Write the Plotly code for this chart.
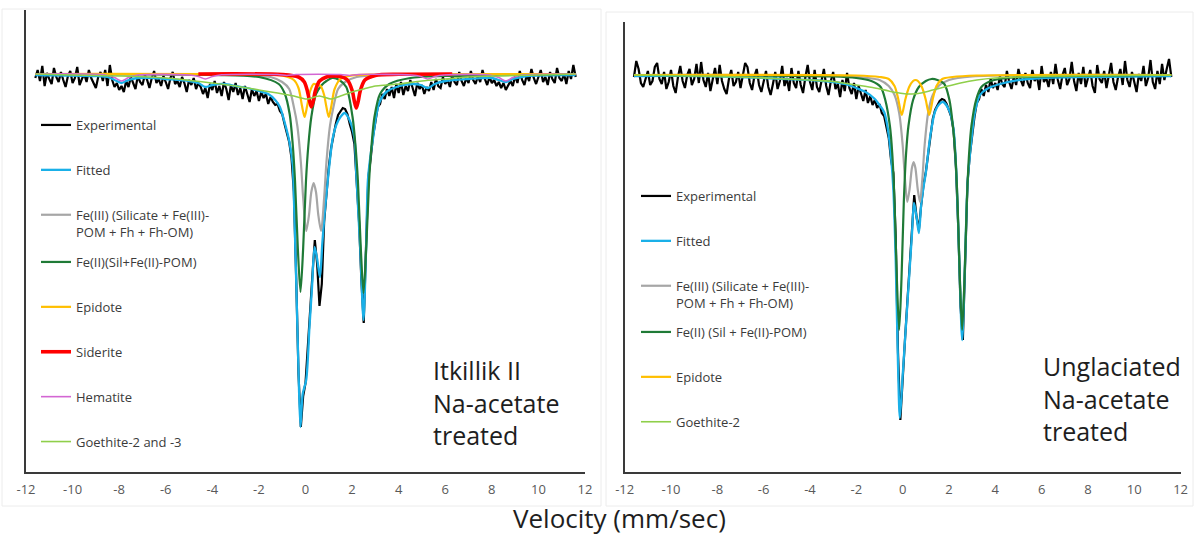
import plotly.graph_objects as go

W, H = 1195, 537

# ---------------- data (absorption, arbitrary units; baseline = 0) ----------------
V_START, V_STEP = -11.6, 0.1

# Left panel: Itkillik II, Na-acetate treated
L_EXP = [
    4, -4, 7, -8, 12, -1, 5, 10, -6, 3,
    8, -2, 6, 13, 2, -3, 9, 4, -7, 11,
    5, 0, 8, -4, 4, 10, 14, 3, -2, 7,
    -4, 12, -9, 6, 13, 9, 16, 12, 18, 7,
    13, 3, 10, 15, 2, 8, 11, 1, 6, 14,
    4, -3, 9, 5, 12, 2, 8, 15, 4, -2,
    10, 7, 13, 3, 9, 18, 6, 11, 4, 15,
    9, 13, 20, 14, 24, 10, 16, 7, 19, 12,
    22, 8, 15, 26, 11, 18, 9, 21, 14, 25,
    12, 19, 28, 15, 22, 17, 27, 18, 24, 20,
    30, 23, 28, 31, 30, 37, 40, 50, 59, 68,
    84, 118, 204, 300, 353, 322, 309, 276, 238, 200,
    166, 190, 232, 210, 148, 119, 93, 74, 60, 50,
    41, 38, 34, 35, 40, 50, 58, 70, 108, 148,
    207, 249, 172, 103, 84, 62, 48, 33, 30, 20,
    25, 15, 22, 13, 24, 10, 19, 8, 21, 12,
    17, 6, 14, 22, 9, 15, 11, 20, 13, 17,
    8, 16, 5, 12, 14, 3, 10, 6, 13, 1,
    8, 11, -2, 7, 12, 4, 9, -3, 6, 10,
    2, 8, -4, 5, 11, 3, 9, 6, 12, 8,
    14, 9, 16, 11, 7, 12, 2, 9, -3, 6,
    11, 1, 7, -5, 4, 10, 2, -4, 8, 3,
    11, -2, 5, 9, -6, 4, 7, 0, 10, -3,
    5, -9, 3,
]

L_FIT_V = [-11.6, -9, -8.5, -8.2, -7.9, -7.6, -7.2, -6.5, -6, -5, -4.6, -4.3, -4.0, -3.5, -3,
           -2.5, -2, -1.6, -1.3, -1.1, -0.9, -0.69, -0.55, -0.52, -0.4, -0.29, -0.215, -0.12,
           0.03, 0.17, 0.28, 0.39, 0.5, 0.62, 0.72, 0.82, 0.92, 1.03, 1.17, 1.32, 1.5, 1.68,
           1.89, 2.1, 2.18, 2.35, 2.49, 2.6, 2.68, 2.8, 2.9, 3.04, 3.18, 3.47, 4.04, 4.6, 4.95,
           5.25, 5.55, 6, 7, 8, 8.3, 8.6, 8.9, 9.5, 11.6]
L_FIT = [1, 2, 3, 6, 9, 6, 4, 4, 5, 7, 9, 13, 11, 10, 12, 14, 17, 20, 26, 33, 48, 68, 91, 106,
         206, 306, 353, 320, 306, 253, 213, 173, 185, 203, 170, 140, 115, 90, 64, 51, 43, 39,
         46, 64, 100, 175, 246, 175, 106, 80, 64, 41, 28, 18, 12, 10, 11, 14, 10, 7, 5, 4, 6,
         8, 5, 2, 1]

L_FE3_V = [-11.6, -3, -1.5, -1.0, -0.7, -0.5, -0.35, -0.2, -0.1, 0.03, 0.15, 0.25, 0.35, 0.45,
           0.55, 0.67, 0.8, 0.9, 1.05, 1.2, 1.4, 1.7, 2.2, 3.5, 11.6]
L_FE3 = [0, 1, 3, 8, 15, 33, 52, 88, 124, 157, 141, 118, 109, 118, 141, 157, 124, 88, 52, 33,
         15, 8, 3, 1, 0]

L_FE2_V = [-11.6, -4, -2, -1.15, -0.9, -0.68, -0.55, -0.45, -0.33, -0.215, -0.1, 0.02, 0.12,
           0.25, 0.45, 0.7, 0.9, 1.15, 1.45, 1.75, 2.02, 2.14, 2.25, 2.375, 2.49, 2.605, 2.73,
           2.84, 2.96, 3.2, 3.6, 4.5, 6, 11.6]
L_FE2 = [0, 1, 3, 10, 19, 40, 70, 107, 174, 218, 174, 107, 72, 43, 20, 11, 7, 4, 6, 13, 43, 70,
         107, 175, 219, 175, 107, 70, 43, 20, 10, 4, 2, 0]

L_EPI_V = [-11.6, -2, -1, -0.5, -0.3, -0.15, -0.04, 0.07, 0.2, 0.35, 0.5, 0.65, 0.8, 0.89, 1.0,
           1.11, 1.25, 1.5, 2, 3, 11.6]
L_EPI = [0, 0.5, 1.5, 6, 14, 32, 43, 32, 17, 10, 11, 12, 21, 32, 43, 32, 15, 5, 1.5, 0.5, 0]

L_SID_V = [-4.6, -1, -0.3, -0.05, 0.08, 0.165, 0.25, 0.335, 0.42, 0.6, 0.9, 1.2, 1.5, 1.8,
           2.01, 2.095, 2.18, 2.265, 2.35, 2.55, 3, 4, 6.3]
L_SID = [0, 0.6, 3, 8, 17, 26, 33, 27, 17, 7, 3, 2, 2.6, 6, 17, 27, 34, 27, 17, 6, 1.4, 0.3, 0]

L_HEM_V = [-11.6, -8.6, -8.2, -7.9, -7.6, -7.2, -5.0, -4.6, -4.3, -4.0, -3.6, -1.2, -0.8, -0.4,
           1.5, 1.9, 2.3, 4.55, 4.95, 5.25, 5.55, 5.95, 7.9, 8.3, 8.6, 8.9, 9.3, 11.6]
L_HEM = [0, 1, 3.5, 7, 3.5, 1, 1, 2.5, 5, 2.5, 0.8, 0.5, 1.5, 0.5, 0.5, 1.5, 0.5, 1, 2.5, 5,
         2.5, 1, 1, 3.5, 7, 3.5, 1, 0]

L_GOE_V = [-11.6, -10, -8, -6, -4, -3, -2, -1.2, -0.5, 0.05, 0.6, 1.1, 1.5, 2, 2.5, 3, 3.5, 4,
           5, 6, 7, 8, 10, 11.6]
L_GOE = [0, 1, 2, 4, 9, 12, 16, 19, 22, 25, 22, 25, 22, 18, 15, 12, 11, 10, 7, 5, 3, 2, 1, 0]

# Right panel: Unglaciated, Na-acetate treated
R_EXP = [
    2, -14, -6, 8, 12, 3, -4, 10, 6, -8,
    -12, 4, 9, -3, 14, 7, -5, 11, 18, 2,
    -9, 6, 13, 0, -6, 10, 4, -11, 8, -13,
    5, 12, -2, 16, 3, -7, 9, -10, 6, 14,
    19, 4, -5, 11, 7, -3, 13, 2, -12, -8,
    8, 15, 1, -6, 10, 17, 5, -4, 12, 20,
    9, -3, 14, 6, -9, 11, 3, 16, -7, 8,
    13, -4, 10, 18, 2, -10, 7, 15, -5, 12,
    17, 4, -6, 11, 20, 6, -3, 14, 9, 22,
    5, 16, -2, 13, 19, 8, 24, 11, 18, 26,
    15, 28, 21, 30, 25, 33, 29, 38, 41, 52,
    63, 85, 98, 162, 278, 345, 300, 265, 228, 194,
    158, 120, 142, 155, 130, 110, 97, 78, 58, 44,
    35, 30, 26, 24, 25, 29, 36, 42, 56, 92,
    152, 232, 265, 178, 108, 80, 58, 42, 28, 24,
    14, 21, 10, 17, 4, 13, 8, 15, 1, 9,
    12, -4, 7, 14, 2, 10, -6, 5, 11, -2,
    8, 13, -5, 6, 1, 15, -9, 7, 3, 12,
    -3, 9, -11, 5, 14, 0, -7, 10, 4, -13,
    6, 16, -2, 9, -8, 12, 3, -5, 11, 18,
    -10, 4, 8, -4, 13, 1, -12, 7, 15, 2,
    -6, 10, -14, 5, 12, -3, 8, 17, -1, 6,
    -9, 11, 3, -15, 7, 14, -4, 9, -11, 5,
    -6, -16, 2,
]

R_FIT_V = [-11.6, -9, -7, -6, -5, -4, -3, -2.5, -2, -1.6, -1.2, -1.0, -0.8, -0.7, -0.6, -0.5,
           -0.4, -0.3, -0.2, -0.12, 0.0, 0.2, 0.4, 0.49, 0.6, 0.7, 0.8, 0.9, 1.0, 1.1, 1.2, 1.39,
           1.55, 1.75, 2.04, 2.2, 2.33, 2.45, 2.57, 2.69, 2.81, 2.98, 3.12, 3.34, 3.63, 4.2, 5,
           6, 8, 11.6]
R_FIT = [1, 1, 2, 3, 4, 5, 7, 9, 13, 17, 24, 30, 37, 46, 60, 82, 115, 185, 290, 343, 301, 230,
         160, 128, 142, 158, 130, 112, 98, 78, 60, 37, 30, 27, 37, 55, 105, 190, 265, 190, 105,
         63, 37, 20, 14, 9, 5, 3, 2, 1]

R_FE3_V = [-11.6, -2.5, -1.5, -1.0, -0.6, -0.35, -0.15, 0.0, 0.1, 0.2, 0.3, 0.4, 0.475, 0.55,
           0.65, 0.75, 0.85, 0.95, 1.1, 1.3, 1.55, 2.0, 3.0, 11.6]
R_FE3 = [0, 1, 3, 5, 11, 20, 38, 70, 104, 127, 114, 93, 87, 93, 114, 127, 104, 70, 38, 20, 11,
         5, 1.5, 0]

R_FE2_V = [-11.6, -3, -2, -1.35, -0.95, -0.75, -0.55, -0.45, -0.35, -0.25, -0.15, -0.05, 0.05,
           0.15, 0.25, 0.45, 0.7, 1.0, 1.25, 1.5, 1.8, 2.02, 2.17, 2.27, 2.37, 2.47, 2.57, 2.67,
           2.77, 2.87, 2.97, 3.17, 3.4, 3.8, 4.5, 6, 11.6]
R_FE2 = [0, 1.5, 3, 6, 12, 25, 51, 78, 127, 204, 255, 204, 127, 78, 51, 25, 12, 6, 4, 5, 9, 25,
         51, 78, 127, 204, 255, 204, 127, 78, 51, 25, 12, 6, 3, 1.5, 0]

R_EPI_V = [-11.6, -2, -1, -0.6, -0.35, -0.2, -0.04, 0.12, 0.28, 0.45, 0.555, 0.66, 0.83, 0.99,
           1.15, 1.31, 1.46, 1.71, 2.15, 3.2, 11.6]
R_EPI = [0, 0.5, 2, 4, 11, 23, 40, 24, 12, 6, 5, 6, 12, 24, 40, 23, 11, 4, 2, 0.5, 0]

R_GOE_V = [-11.6, -9, -7, -5, -4, -3, -2, -1.2, -0.6, 0, 0.39, 0.8, 1.3, 1.8, 2.5, 3.2, 4, 5, 7,
           11.6]
R_GOE = [0, 1, 2, 4, 5, 6.5, 10, 13, 16, 18.5, 19, 18, 15, 12, 8, 5, 3, 2, 1, 0]

TICKS = [-12, -10, -8, -6, -4, -2, 0, 2, 4, 6, 8, 10, 12]
TICK_TEXT = ["-12", "-10", "-8", "-6", "-4", "-2", "0", "2", "4", "6", "8", "10", "12"]

NAMES_L = ["Experimental", "Fitted", "Fe(III) (Silicate + Fe(III)-<br>POM + Fh + Fh-OM)",
           "Fe(II)(Sil+Fe(II)-POM)", "Epidote", "Siderite", "Hematite", "Goethite-2 and -3"]
NAMES_R = ["Experimental", "Fitted", "Fe(III) (Silicate + Fe(III)-<br>POM + Fh + Fh-OM)",
           "Fe(II) (Sil + Fe(II)-POM)", "Epidote", "Goethite-2"]

C_EXP, C_FIT, C_FE3, C_FE2 = "#000000", "#1ab0e8", "#a6a6a6", "#1f7a36"
C_EPI, C_SID, C_HEM, C_GOE = "#ffbf00", "#ff0000", "#d366d3", "#8fcf4a"

# ---------------- figure ----------------
vel_l = [round(V_START + V_STEP * i, 2) for i in range(len(L_EXP))]
vel_r = [round(V_START + V_STEP * i, 2) for i in range(len(R_EXP))]

fig = go.Figure()


def add(x, y, name, color, width, xa, ya, leg, shape="spline"):
    fig.add_trace(go.Scatter(
        x=x, y=y, name=name, mode="lines",
        line=dict(color=color, width=width, shape=shape, smoothing=0.8 if shape == "spline" else None),
        xaxis=xa, yaxis=ya, legend=leg, legendgroup=leg + name, showlegend=True,
        hoverinfo="skip"))


# left panel (top legend block: legend, bottom block: legend3)
add(vel_l, L_EXP, NAMES_L[0], C_EXP, 2.2, "x", "y", "legend", "linear")
add(L_FIT_V, L_FIT, NAMES_L[1], C_FIT, 2.3, "x", "y", "legend")
add(L_FE3_V, L_FE3, NAMES_L[2], C_FE3, 2.2, "x", "y", "legend")
add(L_FE2_V, L_FE2, NAMES_L[3], C_FE2, 2.2, "x", "y", "legend3")
add(L_EPI_V, L_EPI, NAMES_L[4], C_EPI, 2.2, "x", "y", "legend3")
add(L_SID_V, L_SID, NAMES_L[5], C_SID, 3.6, "x", "y", "legend3")
add(L_HEM_V, L_HEM, NAMES_L[6], C_HEM, 1.6, "x", "y", "legend3")
add(L_GOE_V, L_GOE, NAMES_L[7], C_GOE, 1.6, "x", "y", "legend3")

# right panel (legend2 / legend4)
add(vel_r, R_EXP, NAMES_R[0], C_EXP, 2.2, "x2", "y2", "legend2", "linear")
add(R_FIT_V, R_FIT, NAMES_R[1], C_FIT, 2.3, "x2", "y2", "legend2")
add(R_FE3_V, R_FE3, NAMES_R[2], C_FE3, 2.2, "x2", "y2", "legend2")
add(R_FE2_V, R_FE2, NAMES_R[3], C_FE2, 2.2, "x2", "y2", "legend4")
add(R_EPI_V, R_EPI, NAMES_R[4], C_EPI, 2.2, "x2", "y2", "legend4")
add(R_GOE_V, R_GOE, NAMES_R[5], C_GOE, 1.6, "x2", "y2", "legend4")

FONT = "Open Sans, Arial, sans-serif"


def px_x(p):
    return p / W


def px_y(p):
    return 1 - p / H


xaxis_common = dict(range=[-12, 12], tickmode="array", tickvals=TICKS, ticktext=TICK_TEXT,
                    showline=True, linecolor="#3a3a3a", linewidth=1.5, showgrid=False,
                    zeroline=False, ticks="", tickfont=dict(size=13, color="#595959", family=FONT),
                    ticklabelstandoff=5, fixedrange=True, automargin=False)
yaxis_common = dict(showline=True, linecolor="#3a3a3a", linewidth=1.5, showgrid=False,
                    zeroline=False, showticklabels=False, ticks="", fixedrange=True,
                    automargin=False)

legend_common = dict(xanchor="left", yanchor="top", bgcolor="rgba(0,0,0,0)",
                     font=dict(size=13, color="#3b3b3b", family=FONT),
                     traceorder="grouped", tracegroupgap=25, valign="top", itemwidth=30)

fig.update_layout(
    width=W, height=H, margin=dict(l=0, r=0, t=0, b=0, autoexpand=False),
    paper_bgcolor="white", plot_bgcolor="white",
    xaxis=dict(domain=[px_x(26), px_x(585)], anchor="y", **xaxis_common),
    yaxis=dict(domain=[px_y(472), px_y(10)], range=[398, -64], anchor="x", **yaxis_common),
    xaxis2=dict(domain=[px_x(624.7), px_x(1180.6)], anchor="y2", **xaxis_common),
    yaxis2=dict(domain=[px_y(472), px_y(22)], range=[397, -53], anchor="x2", **yaxis_common),
    legend=dict(x=px_x(36), y=px_y(110), **legend_common),
    legend3=dict(x=px_x(36), y=px_y(247), **legend_common),
    legend2=dict(x=px_x(636), y=px_y(181), **legend_common),
    legend4=dict(x=px_x(636), y=px_y(317), **legend_common),
    showlegend=True,
    annotations=[
        dict(text="Itkillik II<br>Na-acetate<br>treated", x=px_x(431), y=px_y(402),
             xref="paper", yref="paper", xanchor="left", yanchor="middle", align="left",
             showarrow=False, font=dict(size=25, color="#1e1e1e", family=FONT)),
        dict(text="Unglaciated<br>Na-acetate<br>treated", x=px_x(1041), y=px_y(398),
             xref="paper", yref="paper", xanchor="left", yanchor="middle", align="left",
             showarrow=False, font=dict(size=25, color="#1e1e1e", family=FONT)),
        dict(text="Velocity (mm/sec)", x=px_x(619), y=0, xref="paper", yref="paper",
             xanchor="center", yanchor="bottom", showarrow=False, borderpad=0,
             font=dict(size=26, color="#1e1e1e", family=FONT)),
    ],
    shapes=[
        dict(type="rect", xref="paper", yref="paper", x0=px_x(2), x1=px_x(601),
             y0=px_y(506), y1=px_y(9), line=dict(color="#ececec", width=1), layer="below"),
        dict(type="rect", xref="paper", yref="paper", x0=px_x(606), x1=px_x(1193),
             y0=px_y(506), y1=px_y(12), line=dict(color="#ececec", width=1), layer="below"),
    ],
)

fig.write_html("out.html", config={"displayModeBar": False},
               post_script="document.body.style.margin='0';document.body.style.overflow='hidden';")
